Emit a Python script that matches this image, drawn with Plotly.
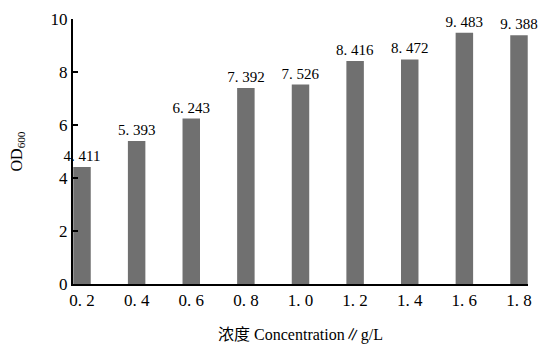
import plotly.graph_objects as go

categories = ["0. 2", "0. 4", "0. 6", "0. 8", "1. 0", "1. 2", "1. 4", "1. 6", "1. 8"]
od600 = [4.411, 5.393, 6.243, 7.392, 7.526, 8.416, 8.472, 9.483, 9.388]
y_ticks = [0, 2, 4, 6, 8, 10]

labels = [f"{v:.3f}".replace(".", ". ") for v in od600]
FONT = "Liberation Serif, Noto Sans CJK SC, serif"

fig = go.Figure(go.Bar(
    x=list(range(len(categories))),
    y=od600,
    text=labels,
    textposition="outside",
    constraintext="none",
    textfont=dict(family=FONT, size=15, color="black"),
    marker=dict(color="#707070", line=dict(width=0)),
    width=0.32,
    cliponaxis=False,
))

fig.update_layout(
    width=549, height=344,
    margin=dict(l=73, r=21, t=19, b=60),
    paper_bgcolor="white", plot_bgcolor="white",
    font=dict(family=FONT, size=16, color="black"),
    showlegend=False,
    xaxis=dict(
        tickmode="array",
        tickvals=list(range(len(categories))),
        ticktext=categories,
        range=[-0.165, 8.165],
        automargin=False,
        showline=True, linecolor="black", linewidth=2,
        ticks="", showgrid=False, zeroline=False,
        tickfont=dict(family=FONT, size=17),
        title=dict(text="浓度 Concentration∥g/L", font=dict(family=FONT, size=16), standoff=20),
    ),
    yaxis=dict(
        range=[0, 10],
        tickvals=y_ticks,
        automargin=False,
        showline=True, linecolor="black", linewidth=2,
        ticks="inside", ticklen=5, tickwidth=2, tickcolor="black",
        ticklabelstandoff=0,
        showgrid=False, zeroline=False,
        tickfont=dict(family=FONT, size=17),
        title=dict(text="OD<sub>600</sub>", font=dict(family=FONT, size=16), standoff=24),
    ),
)

fig.write_html("out.html", config={"displayModeBar": False})
with open("out.html", encoding="utf-8") as f:
    html = f.read()
html = html.replace("<body>", '<body style="margin:0;padding:0;overflow:hidden">', 1)
with open("out.html", "w", encoding="utf-8") as f:
    f.write(html)
